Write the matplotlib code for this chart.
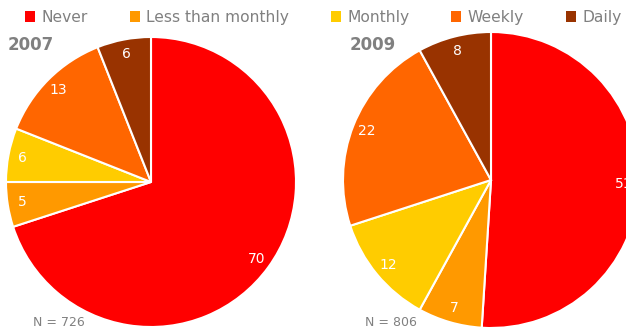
import matplotlib.pyplot as plt
from matplotlib.patches import Patch

plt.rcParams["font.family"] = "DejaVu Sans"

categories = ["Never", "Less than monthly", "Monthly", "Weekly", "Daily"]
colors = ["#FF0000", "#FF9900", "#FFCC00", "#FF6600", "#993300"]

share_2007 = [70, 5, 6, 13, 6]
share_2009 = [51, 7, 12, 22, 8]
n_2007 = 726
n_2009 = 806

W, H = 626, 329
fig = plt.figure(figsize=(W / 100, H / 100), dpi=100)
ax = fig.add_axes([0, 0, 1, 1])

grey = "#808080"

# two pies side by side, clockwise from 12 o'clock
for vals, center, radius, dist in [(share_2007, (151, 147), 145, 0.9),
                                    (share_2009, (491, 149), 148, 0.9)]:
    ax.pie(vals, colors=colors, startangle=90, counterclock=False,
           center=center, radius=radius, frame=True,
           autopct=lambda p: f"{p:.0f}", pctdistance=dist,
           wedgeprops=dict(edgecolor="white", linewidth=1.5),
           textprops=dict(color="white", fontsize=10))

ax.set_xlim(0, W)
ax.set_ylim(0, H)
ax.set_aspect("equal")
ax.axis("off")

# year titles and sample sizes
fig.text(8 / W, 1 - 45 / H, "2007", fontsize=12, fontweight="bold",
         color=grey, va="center", ha="left")
fig.text(350 / W, 1 - 45 / H, "2009", fontsize=12, fontweight="bold",
         color=grey, va="center", ha="left")
fig.text(33 / W, 1 - 322 / H, f"N = {n_2007}", fontsize=9,
         color=grey, va="center", ha="left")
fig.text(365 / W, 1 - 322 / H, f"N = {n_2009}", fontsize=9,
         color=grey, va="center", ha="left")

handles = [Patch(facecolor=c, edgecolor="none") for c in colors]
leg = fig.legend(handles, categories, ncol=5, loc="upper left",
                 bbox_to_anchor=(25 / W, 1 - 10 / H), frameon=False,
                 fontsize=11.2, handlelength=0.65, handleheight=0.65,
                 handletextpad=0.4, columnspacing=2.7, borderpad=0,
                 borderaxespad=0)
for t in leg.get_texts():
    t.set_color(grey)

fig.savefig("out.png", dpi=100)
